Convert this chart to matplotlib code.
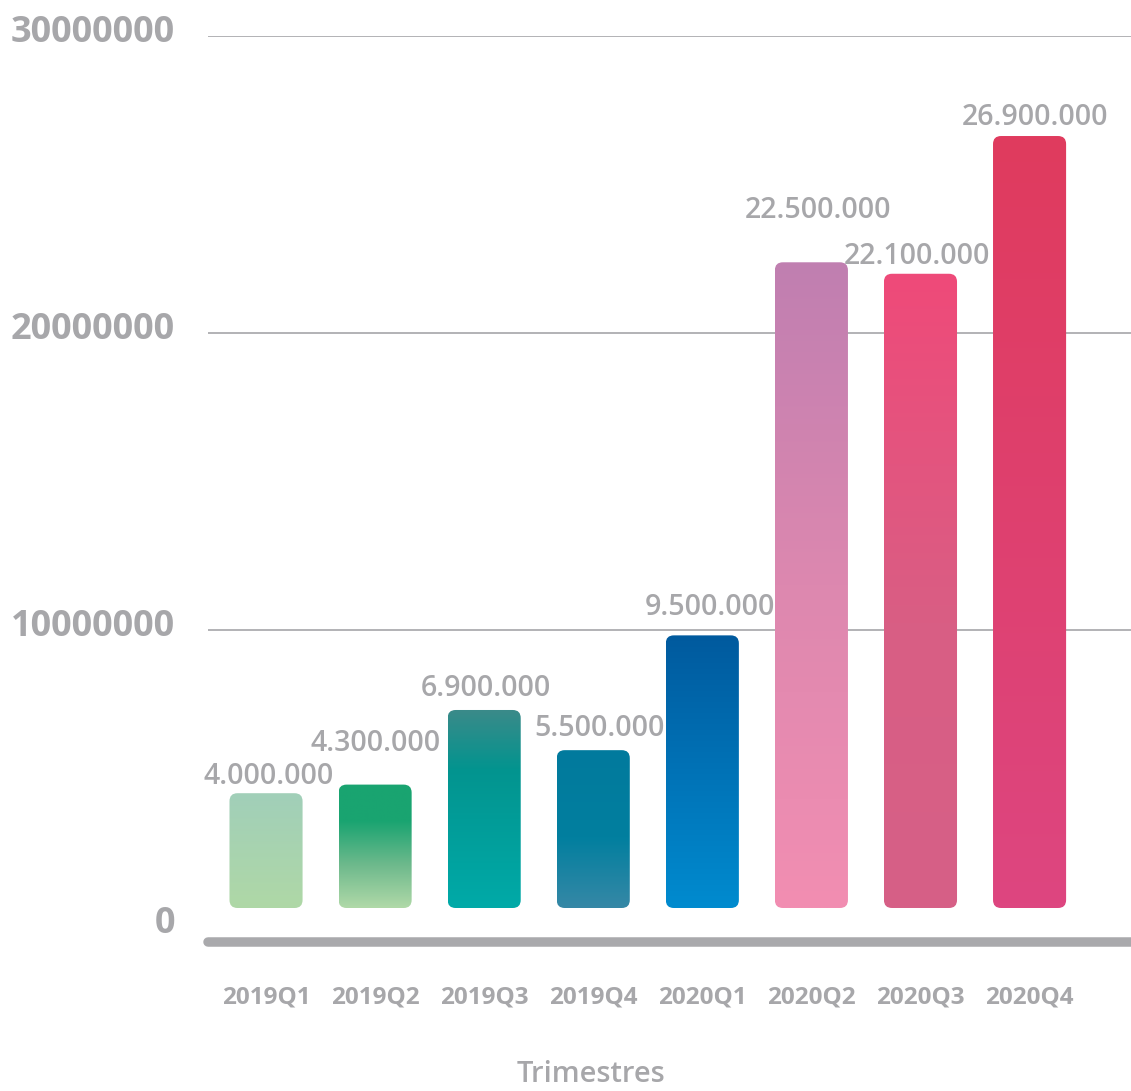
import numpy as np
import matplotlib
matplotlib.use("Agg")
import matplotlib.pyplot as plt
from matplotlib.patches import FancyBboxPatch
from matplotlib.colors import LinearSegmentedColormap
from matplotlib.lines import Line2D
import matplotlib.transforms as mtransforms

# ---------------- data ----------------
quarters = ["2019Q1", "2019Q2", "2019Q3", "2019Q4",
            "2020Q1", "2020Q2", "2020Q3", "2020Q4"]
values = [4.0e6, 4.3e6, 6.9e6, 5.5e6, 9.5e6, 22.5e6, 22.1e6, 26.9e6]
value_labels = ["4.000.000", "4.300.000", "6.900.000", "5.500.000",
                "9.500.000", "22.500.000", "22.100.000", "26.900.000"]
ytick_values = [0, 10e6, 20e6, 30e6]
ytick_labels = ["0", "10000000", "20000000", "30000000"]
x_title = "Trimestres"

# ---------------- styles ----------------
# gradient stops: (fraction from top, colour)
gradients = [
    [(0.0, "#a1cfb9"), (1.0, "#afd8a6")],
    [(0.0, "#19a470"), (0.30, "#1aa471"), (0.65, "#6db98c"), (1.0, "#b0d9a8")],
    [(0.0, "#3b8a89"), (0.30, "#03948f"), (1.0, "#00aaa8")],
    [(0.0, "#027a9d"), (0.55, "#017f9f"), (1.0, "#3688a6")],
    [(0.0, "#005a9e"), (1.0, "#008bcf")],
    [(0.0, "#c07fb1"), (0.5, "#dd88af"), (1.0, "#f28eb2")],
    [(0.0, "#ef4a79"), (0.55, "#d95e84"), (1.0, "#d66087")],
    [(0.0, "#e03b5e"), (1.0, "#dd4680")],
]
label_pad_px = [9, 34, 14, 14, 20, 44, 10, 11]
label_dx_px = [3, 0, 2, 6, 8, 7, -4, 5]

GRAY = "#a7a7aa"
FONT = ["Open Sans", "DejaVu Sans"]
plt.rcParams["font.family"] = FONT

W, H = 1131, 1091
DPI = 100
fig = plt.figure(figsize=(W / DPI, H / DPI), dpi=DPI)

left_px, right_px, top_px, bot_px = 208, 1131, 36, 927
pos = [left_px / W, 1 - bot_px / H, (right_px - left_px) / W, (bot_px - top_px) / H]
ax = fig.add_axes(pos)
ax2 = ax.twinx()
ax2.set_position(pos)

xlim = (-0.532, 7.93)
ax.set_xlim(*xlim)
ax.set_ylim(0, 30e6)
ylim2 = (-0.662e6, 30.385e6)
ax2.set_ylim(*ylim2)

for a in (ax, ax2):
    for s in a.spines.values():
        s.set_visible(False)
ax.patch.set_visible(False)
ax2.patch.set_visible(False)
ax2.set_yticks([])

# gridlines
for v in ytick_values:
    if v > 0:
        ax.axhline(v, color="#a6a6a9", lw=1.2, zorder=0)

# y tick labels (manual, baseline slightly below the line)
ax.set_yticks([])
ylab_trans = mtransforms.blended_transform_factory(ax.transAxes, ax.transData) + \
    mtransforms.ScaledTranslation(-33 / DPI, -6 / DPI, fig.dpi_scale_trans)
for v, lab in zip(ytick_values, ytick_labels):
    ax.text(0, v, lab, transform=ylab_trans, ha="right", va="baseline",
            fontsize=26, fontweight="bold", color=GRAY)

# x tick labels
xpos = np.arange(len(quarters))
ax.set_xticks(xpos, quarters)
ax.tick_params(axis="x", length=0, pad=42, labelsize=17.5, labelcolor=GRAY)
for t in ax.get_xticklabels():
    t.set_fontweight("bold")

# bars
bar_w = 0.67
rects = ax2.bar(xpos, values, width=bar_w, color="none", edgecolor="none")
ax_w_px = right_px - left_px
ax_h_px = bot_px - top_px
px_per_x = ax_w_px / (xlim[1] - xlim[0])
px_per_y = ax_h_px / (ylim2[1] - ylim2[0])
aspect = px_per_x / px_per_y
radius = 8 / px_per_x

grad = np.linspace(0, 1, 256).reshape(-1, 1)
for rect, stops in zip(rects, gradients):
    x0, y0 = rect.get_x(), rect.get_y()
    w, h = rect.get_width(), rect.get_height()
    patch = FancyBboxPatch((x0, y0), w, h,
                           boxstyle=f"round,pad=0,rounding_size={radius}",
                           mutation_aspect=aspect,
                           facecolor="none", edgecolor="none", zorder=2)
    ax2.add_patch(patch)
    cmap = LinearSegmentedColormap.from_list("g", stops)
    im = ax2.imshow(grad, cmap=cmap, extent=(x0, x0 + w, y0, y0 + h),
                    aspect="auto", origin="upper", zorder=2,
                    interpolation="bilinear")
    im.set_clip_path(patch)

ax2.set_xlim(*xlim)
ax2.set_ylim(*ylim2)

# value labels
for x, v, lab, p, dx in zip(xpos, values, value_labels, label_pad_px, label_dx_px):
    ax2.annotate(lab, xy=(x, v), xytext=(dx * 72 / DPI, p * 72 / DPI),
                 textcoords="offset points", ha="center", va="baseline",
                 fontsize=20.5, fontweight="semibold", color=GRAY)

# thick baseline
yb = 1 - 941.5 / H
fig.add_artist(Line2D([208 / W, 1.01], [yb, yb], transform=fig.transFigure,
                      color="#a9a9ac", lw=9.5 * 72 / DPI, solid_capstyle="round"))

# axis title
fig.text(591 / W, 1 - 1075 / H, x_title, ha="center", va="center",
         fontsize=21, fontweight="semibold", color=GRAY)

fig.savefig("out.png", dpi=DPI)
